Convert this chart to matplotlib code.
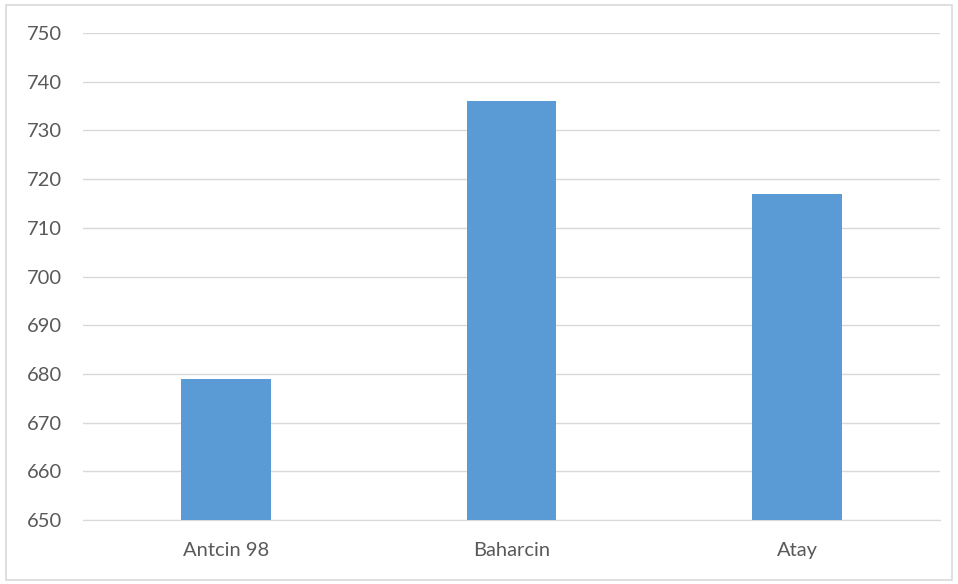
import matplotlib.pyplot as plt
from matplotlib.patches import Rectangle

categories = ["Antcin 98", "Baharcin", "Atay"]
values = [679, 736, 717]
yticks = [650, 660, 670, 680, 690, 700, 710, 720, 730, 740, 750]

plt.rcParams['font.family'] = ['Lato', 'DejaVu Sans']

fig = plt.figure(figsize=(9.58, 5.84), dpi=100)
ax = fig.add_axes([83 / 958, 1 - 520 / 584, (940 - 83) / 958, (520 - 33) / 584])

ax.bar(range(len(categories)), values, width=0.315, color="#5B9BD5", zorder=3)
ax.set_xlim(-0.5, 2.5)
ax.set_ylim(650, 750)
ax.set_yticks(yticks)
ax.set_xticks(range(len(categories)))
ax.set_xticklabels(categories)

ax.grid(axis="y", color="#D9D9D9", linewidth=1, zorder=0)
for s in ["top", "right", "left"]:
    ax.spines[s].set_visible(False)
ax.spines["bottom"].set_color("#D9D9D9")
ax.tick_params(axis="both", length=0, labelsize=14.5, colors="#595959")
ax.tick_params(axis="y", pad=15)
ax.tick_params(axis="x", pad=16)

# outer chart border
fig.patches.append(Rectangle((6 / 958, 1 - 580 / 584), 946 / 958, 575 / 584,
                             transform=fig.transFigure, fill=False,
                             edgecolor="#D9D9D9", linewidth=1.2))

plt.savefig("out.png", dpi=100)
